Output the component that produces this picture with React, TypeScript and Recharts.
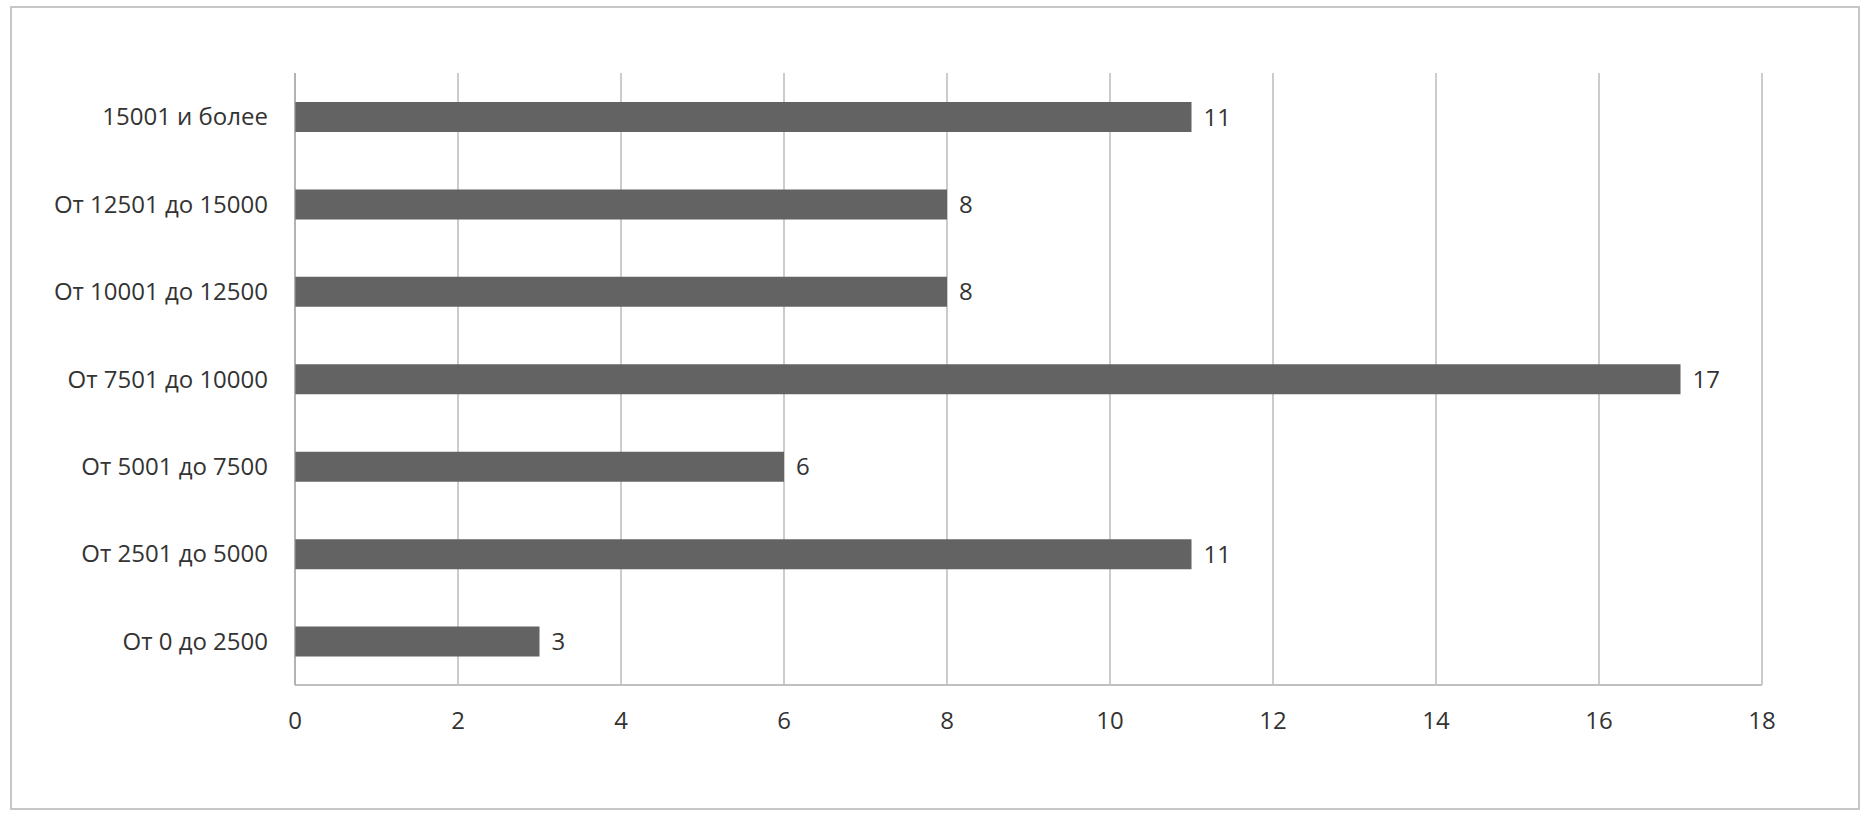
import React from "react";
import { BarChart, Bar, XAxis, YAxis, CartesianGrid, LabelList } from "recharts";

const categories = [
  "15001 и более",
  "От 12501 до 15000",
  "От 10001 до 12500",
  "От 7501 до 10000",
  "От 5001 до 7500",
  "От 2501 до 5000",
  "От 0 до 2500",
];
const values = [11, 8, 8, 17, 6, 11, 3];
const xTicks = [0, 2, 4, 6, 8, 10, 12, 14, 16, 18];

const data = categories.map((name, i) => ({ name, value: values[i] }));

const FONT = "'Open Sans', sans-serif";
const TEXT = "#333333";

export default function App() {
  return (
    <div style={{ position: "absolute", left: 0, top: 0, width: 1868, height: 822, background: "#fff" }}>
      <div
        style={{
          position: "absolute",
          left: 10,
          top: 6,
          width: 1850,
          height: 804,
          border: "2px solid #c6c6c6",
          boxSizing: "border-box",
        }}
      />
      <div style={{ position: "absolute", left: 0, top: 0 }}>
        <BarChart
          width={1868}
          height={822}
          data={data}
          layout="vertical"
          margin={{ top: 73, right: 106, bottom: 77, left: 0 }}
          barSize={30}
        >
          <CartesianGrid horizontal={false} stroke="#999999" strokeWidth={1} />
          <XAxis
            type="number"
            domain={[0, 18]}
            ticks={xTicks}
            interval={0}
            height={60}
            tickLine={false}
            tickSize={0}
            tickMargin={27}
            axisLine={{ stroke: "#c0c0c0", strokeWidth: 2 }}
            tick={{ fill: TEXT, fontSize: 24, fontFamily: FONT }}
          />
          <YAxis
            type="category"
            dataKey="name"
            width={295}
            interval={0}
            tickLine={false}
            tickSize={0}
            tickMargin={27}
            axisLine={{ stroke: "#999999", strokeWidth: 1 }}
            tick={{ fill: TEXT, fontSize: 24, fontFamily: FONT }}
          />
          <Bar dataKey="value" fill="#636363" isAnimationActive={false}>
            <LabelList
              dataKey="value"
              position="right"
              offset={12}
              fill={TEXT}
              fontSize={24}
              fontFamily={FONT}
            />
          </Bar>
        </BarChart>
      </div>
    </div>
  );
}
